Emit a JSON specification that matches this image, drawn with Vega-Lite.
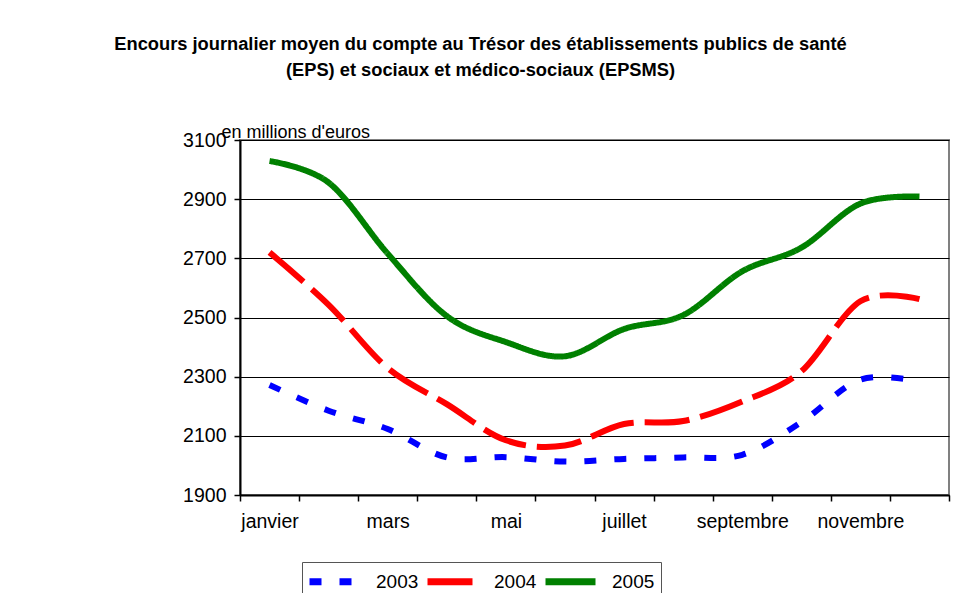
{
  "$schema": "https://vega.github.io/schema/vega-lite/v6.json",
  "width": 709,
  "height": 355,
  "autosize": {"type": "none"},
  "padding": {"left": 240, "top": 140, "right": 12, "bottom": 98},
  "background": "white",
  "title": {
    "text": ["Encours journalier moyen du compte au Trésor des établissements publics de santé", "(EPS) et sociaux et médico-sociaux (EPSMS)"],
    "font": "Liberation Sans",
    "fontSize": 18.3,
    "fontWeight": "bold",
    "color": "#000000",
    "anchor": "middle",
    "dx": -114,
    "lineHeight": 26,
    "offset": 43
  },
  "config": {
    "view": {"stroke": "#808080", "strokeWidth": 2},
    "font": "Liberation Sans"
  },
  "data": {
    "values": [
      {"mois": "janvier", "annee": "2003", "encours": 2272},
      {"mois": "février", "annee": "2003", "encours": 2185},
      {"mois": "mars", "annee": "2003", "encours": 2123},
      {"mois": "avril", "annee": "2003", "encours": 2027},
      {"mois": "mai", "annee": "2003", "encours": 2028},
      {"mois": "juin", "annee": "2003", "encours": 2013},
      {"mois": "juillet", "annee": "2003", "encours": 2022},
      {"mois": "août", "annee": "2003", "encours": 2027},
      {"mois": "septembre", "annee": "2003", "encours": 2036},
      {"mois": "octobre", "annee": "2003", "encours": 2146},
      {"mois": "novembre", "annee": "2003", "encours": 2290},
      {"mois": "décembre", "annee": "2003", "encours": 2284},
      {"mois": "janvier", "annee": "2004", "encours": 2720},
      {"mois": "février", "annee": "2004", "encours": 2543},
      {"mois": "mars", "annee": "2004", "encours": 2329},
      {"mois": "avril", "annee": "2004", "encours": 2207},
      {"mois": "mai", "annee": "2004", "encours": 2085},
      {"mois": "juin", "annee": "2004", "encours": 2067},
      {"mois": "juillet", "annee": "2004", "encours": 2140},
      {"mois": "août", "annee": "2004", "encours": 2150},
      {"mois": "septembre", "annee": "2004", "encours": 2216},
      {"mois": "octobre", "annee": "2004", "encours": 2318},
      {"mois": "novembre", "annee": "2004", "encours": 2555},
      {"mois": "décembre", "annee": "2004", "encours": 2562},
      {"mois": "janvier", "annee": "2005", "encours": 3029},
      {"mois": "février", "annee": "2005", "encours": 2956},
      {"mois": "mars", "annee": "2005", "encours": 2716},
      {"mois": "avril", "annee": "2005", "encours": 2505},
      {"mois": "mai", "annee": "2005", "encours": 2417},
      {"mois": "juin", "annee": "2005", "encours": 2369},
      {"mois": "juillet", "annee": "2005", "encours": 2461},
      {"mois": "août", "annee": "2005", "encours": 2508},
      {"mois": "septembre", "annee": "2005", "encours": 2656},
      {"mois": "octobre", "annee": "2005", "encours": 2736},
      {"mois": "novembre", "annee": "2005", "encours": 2885},
      {"mois": "décembre", "annee": "2005", "encours": 2909}
    ]
  },
  "mark": {"type": "line", "interpolate": "cardinal", "strokeWidth": 6, "strokeCap": "butt"},
  "encoding": {
    "x": {
      "field": "mois",
      "type": "ordinal",
      "bandPosition": 0.5,
      "sort": ["janvier", "février", "mars", "avril", "mai", "juin", "juillet", "août", "septembre", "octobre", "novembre", "décembre"],
      "scale": {"type": "band", "paddingInner": 0, "paddingOuter": 0},
      "axis": {
        "title": null,
        "tickBand": "extent",
        "labelExpr": "indexof(['janvier','mars','mai','juillet','septembre','novembre'], datum.value) >= 0 ? datum.label : ''",
        "labelAngle": 0,
        "labelFontSize": 19.5,
        "labelColor": "#000000",
        "labelPadding": 11,
        "labelOverlap": false,
        "labelFlush": false,
        "tickColor": "#000000",
        "tickSize": 6,
        "tickWidth": 1.5,
        "domainColor": "#000000",
        "domainWidth": 2,
        "grid": false
      }
    },
    "y": {
      "field": "encours",
      "type": "quantitative",
      "scale": {"domain": [1900, 3100], "nice": false, "zero": false},
      "axis": {
        "title": "en millions d'euros",
        "titleAngle": 0,
        "titleAlign": "left",
        "titleBaseline": "alphabetic",
        "titleX": -19,
        "titleY": -3,
        "titleFontSize": 18,
        "titleFontWeight": "normal",
        "titleColor": "#000000",
        "values": [1900, 2100, 2300, 2500, 2700, 2900, 3100],
        "format": "d",
        "labelFontSize": 19.5,
        "labelColor": "#000000",
        "labelPadding": 8,
        "tickColor": "#000000",
        "tickSize": 6,
        "tickWidth": 1.5,
        "domainColor": "#000000",
        "domainWidth": 2,
        "grid": true,
        "gridColor": "#000000",
        "gridWidth": 1
      }
    },
    "color": {
      "field": "annee",
      "type": "nominal",
      "scale": {"domain": ["2003", "2004", "2005"], "range": ["#0000FF", "#FF0000", "#008000"]},
      "legend": {
        "title": null,
        "orient": "none",
        "legendX": 62,
        "legendY": 422,
        "direction": "horizontal",
        "symbolType": "M-1.2,0L3.8,0",
        "symbolSize": 400,
        "symbolStrokeWidth": 7,
        "labelFontSize": 19,
        "labelColor": "#000000",
        "labelOffset": 41,
        "columnPadding": -6,
        "padding": 6,
        "strokeColor": "#555555"
      }
    },
    "strokeDash": {
      "field": "annee",
      "type": "nominal",
      "scale": {"domain": ["2003", "2004", "2005"], "range": [[12, 18], [45, 11], [1, 0]]},
      "legend": {
        "title": null,
        "orient": "none",
        "legendX": 62,
        "legendY": 422,
        "direction": "horizontal",
        "symbolType": "M-1.2,0L3.8,0",
        "symbolSize": 400,
        "symbolStrokeWidth": 7,
        "labelFontSize": 19,
        "labelColor": "#000000",
        "labelOffset": 41,
        "columnPadding": -6,
        "padding": 6,
        "strokeColor": "#555555"
      }
    }
  }
}
